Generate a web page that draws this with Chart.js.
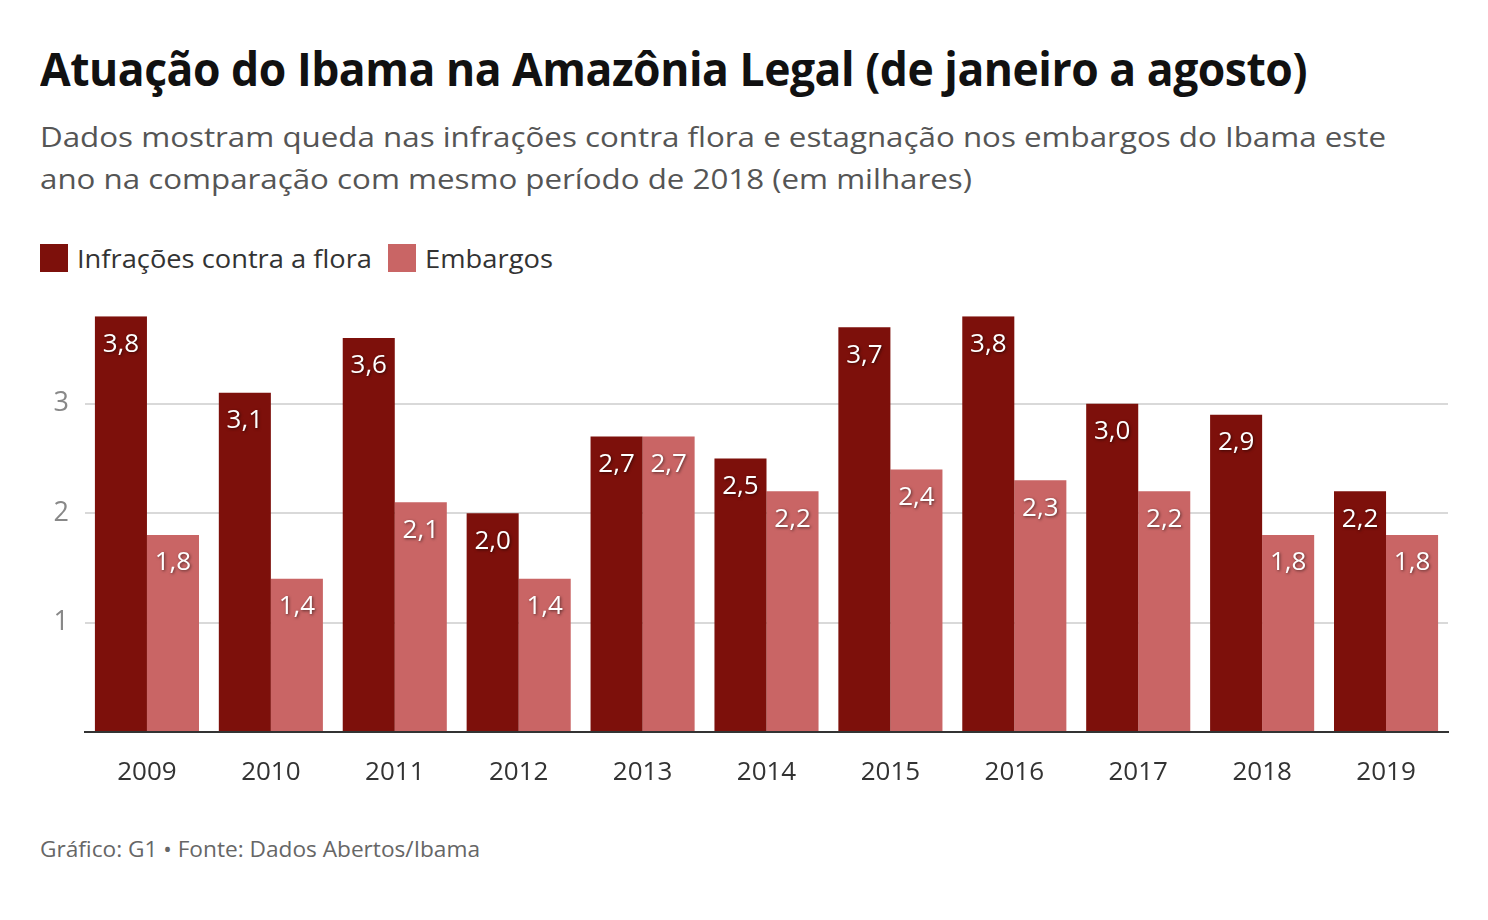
<!DOCTYPE html>
<html>
<head>
<meta charset="utf-8">
<script src="https://cdn.jsdelivr.net/npm/chart.js@4"></script>
<style>
  html, body { margin: 0; padding: 0; background: #fff; }
  body { width: 1488px; height: 920px; position: relative; overflow: hidden; font-family: "Open Sans", sans-serif; }
  .fit { position: absolute; white-space: nowrap; transform-origin: 0 0; }
  #title { left: 40px; top: 36px; font-size: 47px; font-weight: 700; color: #111; line-height: 64px; letter-spacing: -0.5px; }
  #sub1, #sub2 { left: 40px; font-size: 28px; color: #555; line-height: 40px; }
  #sub1 { top: 116px; }
  #sub2 { top: 158px; }
  #legend { position: absolute; left: 40px; top: 240px; height: 36px; }
  .lg { position: absolute; top: 4px; width: 28px; height: 28px; }
  .lt { position: absolute; top: 0; font-size: 26px; color: #333; line-height: 36px; white-space: nowrap; transform-origin: 0 0; }
  #footer { left: 40px; top: 832px; font-size: 22px; color: #666; line-height: 32px; }
  #wrap { position: absolute; left: 0; top: 284px; width: 1488px; height: 527px; }
</style>
</head>
<body>
<div id="title" class="fit">Atuação do Ibama na Amazônia Legal (de janeiro a agosto)</div>
<div id="sub1" class="fit">Dados mostram queda nas infrações contra flora e estagnação nos embargos do Ibama este</div>
<div id="sub2" class="fit">ano na comparação com mesmo período de 2018 (em milhares)</div>
<div id="legend"></div>
<div id="wrap"><canvas id="c"></canvas></div>
<div id="footer" class="fit">Gráfico: G1 • Fonte: Dados Abertos/Ibama</div>
<script>
const years = ["2009","2010","2011","2012","2013","2014","2015","2016","2017","2018","2019"];
const infracoes = [3.8, 3.1, 3.6, 2.0, 2.7, 2.5, 3.7, 3.8, 3.0, 2.9, 2.2];
const embargos = [1.8, 1.4, 2.1, 1.4, 2.7, 2.2, 2.4, 2.3, 2.2, 1.8, 1.8];
const seriesNames = ["Infrações contra a flora", "Embargos"];
const seriesColors = ["#7d100b", "#c96565"];
const yTicks = [1, 2, 3];

// fit text widths to reference
function fitWidth(el, target) {
  const w = el.getBoundingClientRect().width;
  if (w > 0) el.style.transform = "scaleX(" + (target / w) + ")";
}

// legend
const legend = document.getElementById("legend");
const legendPos = [[0, 37, 295], [348, 385, 128]];
seriesNames.forEach((n, i) => {
  const sq = document.createElement("div");
  sq.className = "lg";
  sq.style.left = legendPos[i][0] + "px";
  sq.style.background = seriesColors[i];
  legend.appendChild(sq);
  const t = document.createElement("div");
  t.className = "lt";
  t.style.left = legendPos[i][1] + "px";
  t.textContent = n;
  legend.appendChild(t);
});

const valueLabels = {
  id: "valueLabels",
  afterDatasetsDraw(chart) {
    const ctx = chart.ctx;
    ctx.save();
    ctx.font = "26px 'Open Sans'";
    ctx.textAlign = "center";
    ctx.textBaseline = "middle";
    ctx.fillStyle = "#fff";
    ctx.shadowColor = "rgba(0,0,0,0.55)";
    ctx.shadowBlur = 3;
    ctx.shadowOffsetX = 1;
    ctx.shadowOffsetY = 1;
    chart.data.datasets.forEach((ds, di) => {
      chart.getDatasetMeta(di).data.forEach((bar, i) => {
        const v = ds.data[i];
        ctx.fillText(v.toFixed(1).replace(".", ","), bar.x, bar.y + 28);
      });
    });
    ctx.restore();
  }
};

Chart.defaults.font.family = "'Open Sans', sans-serif";

new Chart(document.getElementById("c"), {
  type: "bar",
  data: {
    labels: years,
    datasets: [
      { label: seriesNames[0], data: infracoes, backgroundColor: seriesColors[0], borderWidth: 0 },
      { label: seriesNames[1], data: embargos, backgroundColor: seriesColors[1], borderWidth: 0 }
    ]
  },
  options: {
    responsive: true,
    maintainAspectRatio: false,
    animation: false,
    layout: { padding: { left: 0, right: 40, top: 0, bottom: 0 } },
    plugins: { legend: { display: false }, tooltip: { enabled: false } },
    datasets: { bar: { categoryPercentage: 0.84, barPercentage: 1.0 } },
    scales: {
      x: {
        grid: { display: false, drawTicks: false },
        border: { display: true, color: "#333", width: 2 },
        ticks: { color: "#333", font: { size: 26 }, padding: 25, maxRotation: 0 },
        afterFit(s) { s.height = 79; }
      },
      y: {
        min: 0, max: 3.8,
        afterBuildTicks(s) { s.ticks = [0].concat(yTicks).map(v => ({ value: v })); },
        grid: {
          drawTicks: false,
          color: (c) => c.tick && c.tick.value === 0 ? "rgba(0,0,0,0)" : "#d9d9d9",
          lineWidth: 2
        },
        border: { display: false },
        ticks: {
          color: "#888", font: { size: 27 }, padding: 16,
          callback: (v) => v === 0 ? "" : String(v)
        },
        afterFit(s) { s.width = 85; }
      }
    }
  },
  plugins: [valueLabels]
});

document.fonts.ready.then(() => {
  fitWidth(document.getElementById("title"), 1267);
  fitWidth(document.getElementById("sub1"), 1346);
  fitWidth(document.getElementById("sub2"), 932);
  fitWidth(document.getElementById("footer"), 440);
  const lts = document.querySelectorAll(".lt");
  fitWidth(lts[0], 295);
  fitWidth(lts[1], 128);
});
</script>
</body>
</html>
